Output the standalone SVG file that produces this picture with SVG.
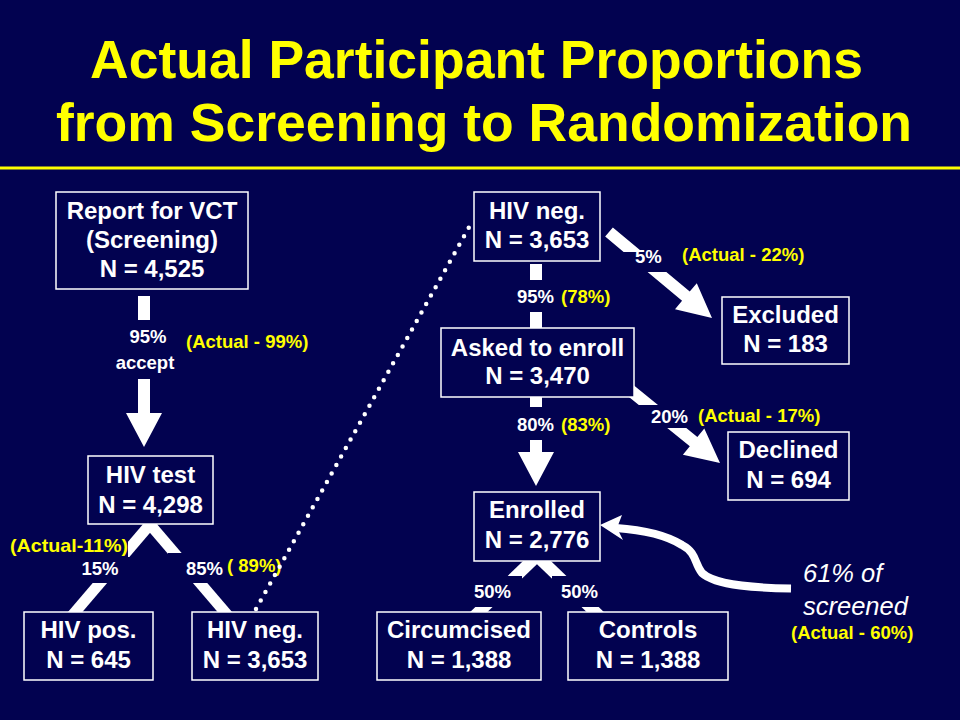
<svg xmlns="http://www.w3.org/2000/svg" width="960" height="720" viewBox="0 0 960 720">
<style>
.bg{fill:#020250}
.title{font-family:"Liberation Sans",Arial,sans-serif;font-weight:bold;font-size:53.5px;fill:#FFFF00;text-anchor:middle}
.box{fill:#020250;stroke:#FFFFFF;stroke-width:1.5}
.nt{font-family:"Liberation Sans",Arial,sans-serif;font-weight:bold;font-size:24px;fill:#FFFFFF;text-anchor:middle}
.lw{font-family:"Liberation Sans",Arial,sans-serif;font-weight:bold;font-size:18.5px;fill:#FFFFFF}
.ly{font-family:"Liberation Sans",Arial,sans-serif;font-weight:bold;font-size:18.5px;fill:#FFFF00}
.arr{fill:#FFFFFF}
.mask{fill:#020250}
.it{font-family:"Liberation Sans",Arial,sans-serif;font-style:italic;font-size:25.5px;fill:#FFFFFF}
</style>
<rect class="bg" x="0" y="0" width="960" height="720"/>
<g id="title">
<text class="title" x="476.5" y="78">Actual Participant Proportions</text>
<text class="title" x="484" y="141">from Screening to Randomization</text>
<line x1="0" y1="168" x2="960" y2="168" stroke="#FFFF00" stroke-width="3"/>
</g>
<g id="connectors">
<!-- Report -> HIV test -->
<polygon class="arr" points="138,296 150,296 150,413 162,413 144,447 126,413 138,413"/>
<!-- HIV test -> HIV pos / HIV neg -->
<polygon class="arr" points="159.4,505 173.8,505 58.4,640 44,640"/>
<polygon class="arr" points="126.2,505 140.6,505 256,640 241.6,640"/>
<!-- HIV neg -> Asked -->
<rect class="arr" x="530" y="264" width="12" height="70"/>
<!-- Asked -> Enrolled -->
<polygon class="arr" points="530,390 542,390 542,452 554,452 536,486 518,452 530,452"/>
<!-- HIV neg -> Excluded -->
<polygon class="arr" points="605.16,236.61 682.06,300.82 675.01,309.26 712,318 696.79,283.16 689.74,291.6 612.84,227.39"/>
<!-- Asked -> Declined -->
<polygon class="arr" points="621.22,390.66 689.81,446.25 682.89,454.8 720,463 704.29,428.38 697.37,436.93 628.78,381.34"/>
<!-- Enrolled -> Circumcised / Controls -->
<polygon class="arr" points="545,540 562.2,540 458.2,640 441,640"/>
<polygon class="arr" points="511.8,540 529,540 633,640 615.8,640"/>
<!-- label backgrounds -->
<rect class="mask" x="122" y="320" width="48" height="59"/>
<rect class="mask" x="0" y="530" width="128" height="30"/>
<rect class="mask" x="70" y="557" width="80" height="26"/>
<rect class="mask" x="168" y="553" width="58" height="30"/>
<rect class="mask" x="512" y="280" width="50" height="32"/>
<rect class="mask" x="512" y="407" width="50" height="33"/>
<rect class="mask" x="615" y="252" width="55" height="20"/>
<rect class="mask" x="638" y="405" width="60" height="23"/>
<rect class="mask" x="470" y="576" width="52" height="31"/>
<rect class="mask" x="552" y="576" width="52" height="31"/>
<!-- labels -->
<text class="lw" x="148" y="343" text-anchor="middle">95%</text>
<text class="lw" x="145" y="369" text-anchor="middle">accept</text>
<text class="ly" x="186" y="348">(Actual - 99%)</text>
<text class="ly" x="10" y="552" textLength="118" lengthAdjust="spacingAndGlyphs">(Actual-11%)</text>
<text class="lw" x="100" y="575" text-anchor="middle">15%</text>
<text class="lw" x="186" y="575">85%</text>
<text class="ly" x="227" y="572">( 89%)</text>
<text class="lw" x="517" y="303">95%</text>
<text class="ly" x="561" y="303">(78%)</text>
<text class="lw" x="517" y="431">80%</text>
<text class="ly" x="561" y="431">(83%)</text>
<text class="lw" x="635" y="263">5%</text>
<text class="ly" x="682" y="261">(Actual - 22%)</text>
<text class="lw" x="651" y="423">20%</text>
<text class="ly" x="698" y="422">(Actual - 17%)</text>
<text class="lw" x="474" y="598">50%</text>
<text class="lw" x="561" y="598">50%</text>
<!-- dotted link -->
<line x1="256" y1="609" x2="472" y2="222" stroke="#FFFFFF" stroke-width="4.5" stroke-linecap="round" stroke-dasharray="0 9.7"/>
<!-- curved arrow -->
<path d="M791,588.5 C760,588 716,586 702,573 C694,563 697,553 682,545 C666,535 645,530 616,528" fill="none" stroke="#FFFFFF" stroke-width="8"/>
<polygon class="arr" points="600,525 622,515 617,528 623,540"/>
<text class="it" x="803" y="582">61% of</text>
<text class="it" x="803" y="615">screened</text>
<text class="ly" x="791" y="639">(Actual - 60%)</text>
</g>
<g id="node-report">
<rect class="box" x="56" y="192" width="192" height="97"/>
<text class="nt" x="152" y="219">Report for VCT</text>
<text class="nt" x="152" y="248">(Screening)</text>
<text class="nt" x="152" y="277">N = 4,525</text>
</g>
<g id="node-hivtest">
<rect class="box" x="88" y="456" width="125" height="68"/>
<text class="nt" x="150.5" y="483">HIV test</text>
<text class="nt" x="150.5" y="513">N = 4,298</text>
</g>
<g id="node-hivpos">
<rect class="box" x="24" y="612" width="129" height="68"/>
<text class="nt" x="88.5" y="638">HIV pos.</text>
<text class="nt" x="88.5" y="668">N = 645</text>
</g>
<g id="node-hivneg-left">
<rect class="box" x="192" y="612" width="126" height="68"/>
<text class="nt" x="255" y="638">HIV neg.</text>
<text class="nt" x="255" y="668">N = 3,653</text>
</g>
<g id="node-hivneg-right">
<rect class="box" x="474" y="192" width="126" height="69"/>
<text class="nt" x="537" y="219">HIV neg.</text>
<text class="nt" x="537" y="248">N = 3,653</text>
</g>
<g id="node-asked">
<rect class="box" x="441" y="328" width="193" height="69"/>
<text class="nt" x="537.5" y="356">Asked to enroll</text>
<text class="nt" x="537.5" y="384">N = 3,470</text>
</g>
<g id="node-enrolled">
<rect class="box" x="474" y="492" width="126" height="69"/>
<text class="nt" x="537" y="518">Enrolled</text>
<text class="nt" x="537" y="548">N = 2,776</text>
</g>
<g id="node-circumcised">
<rect class="box" x="377" y="612" width="164" height="68"/>
<text class="nt" x="459" y="638">Circumcised</text>
<text class="nt" x="459" y="668">N = 1,388</text>
</g>
<g id="node-controls">
<rect class="box" x="568" y="612" width="160" height="68"/>
<text class="nt" x="648" y="638">Controls</text>
<text class="nt" x="648" y="668">N = 1,388</text>
</g>
<g id="node-excluded">
<rect class="box" x="722" y="297" width="127" height="67"/>
<text class="nt" x="785.5" y="323">Excluded</text>
<text class="nt" x="785.5" y="352">N = 183</text>
</g>
<g id="node-declined">
<rect class="box" x="728" y="432" width="121" height="68"/>
<text class="nt" x="788.5" y="458">Declined</text>
<text class="nt" x="788.5" y="488">N = 694</text>
</g>
</svg>
